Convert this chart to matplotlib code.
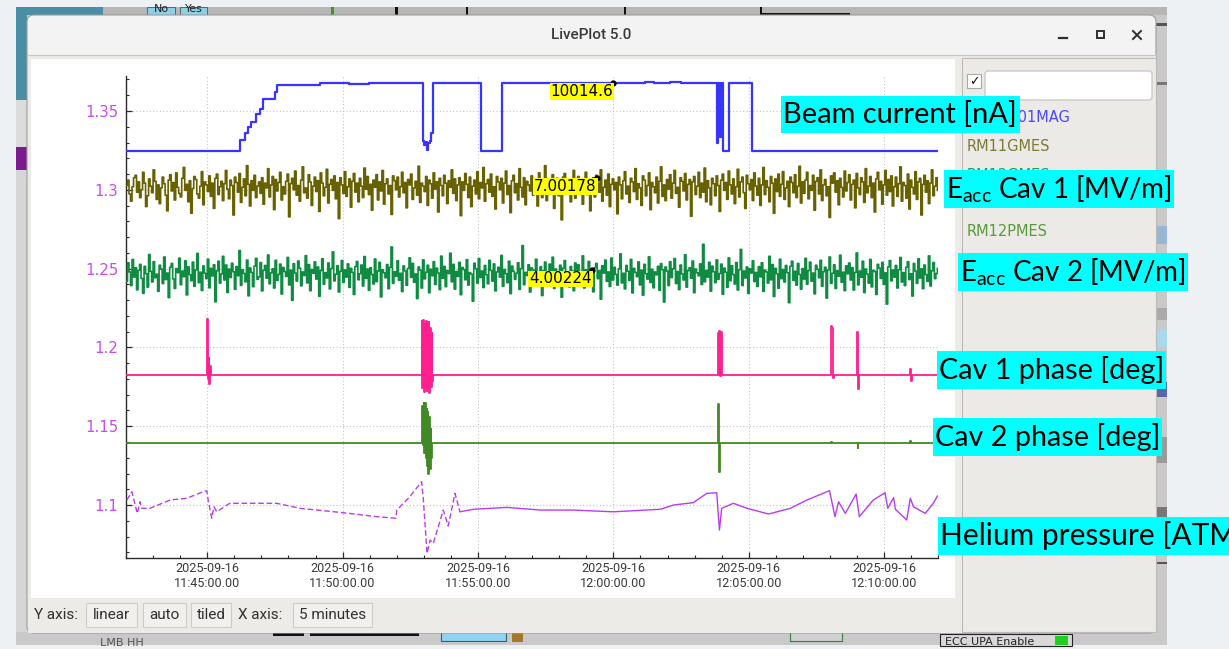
import numpy as np
import pandas as pd
import matplotlib.pyplot as plt
import matplotlib.dates as mdates
from matplotlib.patches import Rectangle, FancyBboxPatch
from matplotlib.ticker import MultipleLocator, FuncFormatter

plt.rcParams['font.family'] = ['DejaVu Sans']

DAY = "2025-09-16 "

# ---------------- data ----------------
# beam current [nA], step values
beam_times = ["11:42:00", "11:46:13", "11:46:24", "11:46:30", "11:46:36", "11:46:48", "11:46:57",
              "11:47:03", "11:47:30", "11:47:35", "11:49:10", "11:49:12", "11:49:16", "11:50:15",
              "11:50:59", "11:51:20", "11:51:28", "11:51:50", "11:51:58", "11:52:20", "11:52:30",
              "11:52:58", "11:53:01", "11:53:04", "11:53:07", "11:53:10", "11:53:13", "11:53:16",
              "11:53:20", "11:55:07", "11:55:53", "11:57:30", "11:58:40", "11:59:59", "12:00:40",
              "12:01:10", "12:01:30", "12:02:05", "12:02:30", "12:02:50", "12:03:10", "12:03:50",
              "12:03:52", "12:03:56", "12:03:58", "12:04:03", "12:04:16", "12:05:07", "12:11:59"]
beam_na = [0, 1600, 2570, 3440, 4270, 5430, 6150,
           7600, 8710, 9680, 9930, 10020, 9940, 9800,
           9940, 9990, 9930, 9990, 9940, 9985, 9935,
           1450, 850, 1300, 200, 1150, 1500, 2570,
           9940, 0, 9950, 9930, 9960, 10014.6, 10030,
           10060, 10020, 10050, 10010, 10040, 10000, 1200,
           9990, 2000, 9990, 0, 9980, 0, 0]

# accelerating gradients, deviation from nominal in units of 1e-4 MV/m
eacc1_dev = [5, 14, -9, -21, 3, 18, 22, -6, 11, -15, -2, 27, 9, -30, -12, 16, 4, -7, 31, 12, -18, 6, -25, 1, 19, 8, -11, -37, 14, 23,
             -4, 10, -19, 26, 2, -8, -14, 17, 35, -3, 7, -22, 13, -41, 0, 20, 15, -9, -16, 4, 28, -27, 11, 6, -5, 21, -13, 9, -33, 17,
             24, -10, 3, 12, -20, 8, 30, -1, -17, 14, 5, -44, 19, 10, -6, 25, -23, 2, 16, -12, 38, 7, -29, 13, -3, 22, -15, 4, 11, -8,
             18, -26, 9, 1, 33, -14, 6, 20, -35, 15, -4, 10, 27, -19, 3, -9, 12, 24, -47, 8, 17, -2, 29, -11, 5, -21, 14, 36, -7, 1,
             -16, 23, 11, -28, 4, 19, -5, 13, -38, 26, 9, -12, 2, 32, -24, 7, 15, -3, 21, -17, 10, -50, 18, 6, -8, 28, -13, 3, 16, -31,
             12, 25, -6, 9, -22, 17, 4, -15, 34, -1, 20, -10, 7, -36, 14, 2, 23, -19, 11, -4, 30, -26, 8, 16, -9, 5, -43, 21, 13, -2,
             19, -14, 3, 27, -7, 10, -32, 15, 6, 24, -18, 1, 12, -11, 37, -23, 9, 4, -5, 20, -28, 14, 8, -16, 26, -1, 11, -39, 17, 5,
             -12, 22, 9, -25, 13, 2, 31, -8, 16, -20, 6, 18, -45, 11, -3, 25, 7, -15, 19, -30, 4, 14, -9, 28, -17, 10, 1, 35, -21, 8,
             15, -6, 24, -13, 3, -34, 20, 11, -2, 17, -24, 9, 29, -10, 5, -40, 13, 22, -7, 8, -19, 33, 2, -14, 18, -27, 12, 6, -4, 21,
             -11, 16, 4, -29, 26, 10, -15, 7, 38, -20, 13, -5, 1, 23, -33, 9, 17, -12, 6, -52, 19, 25, -8, 3, 14, -22, 11, 30, -16, 5,
             20, -3, 12, -26, 8, 27, -10, 15, -37, 4, 18, -14, 22, 9, -6, 31, -21, 2, 14, -11, 24, -30, 7, 16, -2, 10, -42, 19, 6, -17,
             13, 28, -9, 4, -23, 17, 11, -5, 33, -18, 8, 1, -28, 21, 14, -12, 5, 26, -35, 10, 3, -7, 19, -24, 12, 36, -13, 6, -20, 15,
             -1, 23, -16, 9, 30, -8, 2, -31, 18, 12, -4, 25, -19, 7, 15, -46, 11, 20, -10, 4, 27, -15, 9, -6, 34, -22, 13, 1, -27, 17,
             8, -12, 21, 5, -38, 14, 24, -3, 10, -18, 29, 6, -9, 16, -25, 3, 32, -14, 11, 19, -7, -33, 22, 8, -2, 15, -20, 26, 4, -11,
             17, -28, 6, 35, -10, 13, 2, -22, 20, 9, -41, 16, -5, 24, -13, 7, 28, -18, 1, 12, -30, 19, 10, -7, 23, -15, 4, 37, -24, 11,
             -8, 14, 27, -17, 5, -3, 22, -36, 12, 18, -9, 31, -20, 6, 15, -12, 3, -48, 21, 9, 26, -6, 13, -27, 17, 2, -14, 29, -4, 10,
             23, -19, 7, 14, -32, 25, 1, -10, 18, 11, -23, 33, -7, 4, 20, -15, 9, -39, 16, 27, -2, 12, -26, 6, 30, -11, 15, -5, 21, -29,
             3, 19, -13, 8, 36, -21, 10, 5, -16, 24, -34, 14, 2, -9, 28, -18, 11, 17, -44, 7, 22, -6, 13, -25, 9, 31, -12, 4, 18, -3]
eacc2_dev = [-28, 55, 14, -47, 70, -9, 33, -66, 21, 48, -15, -82, 39, 6, -54, 92, 17, -31, 60, -12, 4, -73, 44, 26, -38, 81, -20, 9, -101, 35,
             52, -17, -60, 29, 11, 76, -43, 18, -7, 64, -89, 37, 2, -25, 58, -50, 23, 97, -34, 13, -69, 41, 8, -16, 71, -57, 30, -4, 46, -120,
             19, 62, -36, 5, 84, -22, 45, -78, 27, -11, 53, 15, -64, 38, -3, 110, -46, 24, 7, -30, 67, -93, 32, 12, -52, 40, 75, -19, -8, 56,
             -71, 21, 43, -14, 90, -39, 10, 28, -58, 66, -24, 3, 49, -85, 34, 16, -6, 79, -44, 22, -113, 51, 9, -27, 63, 31, -48, 14, -2, 87,
             -35, 47, -70, 25, 8, 59, -18, 36, -95, 20, 73, -41, 11, -13, 54, -62, 29, 104, -26, 4, 42, -76, 17, 65, -33, 23, -9, 50, -55, 30,
             12, -87, 38, 61, -21, 6, 45, -49, 83, -15, 27, -68, 33, 2, -40, 72, -29, 18, 57, -98, 24, 10, -12, 47, -61, 35, 126, -37, 15, -5,
             64, -23, 8, -74, 41, 19, -46, 30, 77, -10, 52, -32, 5, -105, 36, 22, -58, 68, -17, 13, 44, -79, 26, -3, 60, -42, 31, 9, -65, 85,
             -14, 39, -52, 20, 7, 98, -30, 48, -63, 16, -6, 57, -88, 34, 25, -21, 69, -45, 11, 4, -117, 53, 28, -36, 74, -11, 18, -56, 43, 2,
             -39, 66, 21, -27, 50, -71, 14, 35, -9, 88, -50, 25, 6, -34, 62, -83, 40, 17, -19, 8, 55, -64, 29, 132, -43, 12, -2, 46, -76, 32,
             23, -15, 71, -48, 10, 37, -92, 19, 58, -26, 4, 49, -37, 80, -60, 27, 13, -8, 44, -99, 31, 65, -20, 7, -53, 38, 18, -70, 54, -12,
             46, -31, 15, 86, -58, 24, -4, 61, -40, 11, -75, 33, 52, -16, 20, -108, 42, 9, 67, -28, 14, -51, 76, -22, 35, 3, -45, 28, 95, -35,
             8, -62, 43, 17, -24, 70, -80, 30, 12, -7, 59, -44, 22, -90, 48, 6, -18, 82, -33, 26, -57, 14, 1, 39, -68, 51, 24, -121, 36, 18,
             -47, 60, -11, 29, 74, -38, 16, -65, 45, 5, -22, 91, -54, 20, 33, -14, 63, -79, 27, 10, -3, 50, -42, 138, -30, 21, -9, 57, -72, 40,
             15, -34, 68, -19, 7, 49, -86, 31, 13, -55, 77, -25, 42, 2, -40, 56, -67, 24, 115, -47, 18, -13, 36, -82, 28, 9, 64, -29, 12, -51,
             38, -8, 55, -73, 22, 14, -36, 84, -21, 47, -96, 30, 6, -59, 71, -16, 25, -31, 43, 11, -124, 39, 62, -24, 17, -45, 52, 3, -63, 29,
             -18, 75, -41, 20, 58, -27, 9, -84, 44, 26, -12, 66, -50, 15, 35, -103, 23, 81, -37, 8, 46, -60, 19, -5, 89, -32, 13, -70, 41, 6,
             54, -22, 33, -67, 12, 99, -44, 18, -10, 62, -78, 27, 4, -36, 70, -53, 21, 16, -87, 48, 31, -15, 57, -42, 10, -130, 37, 65, -26, 23,
             -9, 43, -58, 24, 79, -31, 11, -47, 35, 60, -20, 6, -94, 52, 18, -37, 73, -13, 28, -61, 45, 2, -28, 86, -49, 19, 56, -16, 7, 30]
eacc1_nominal = 7.0
eacc2_nominal = 4.0

# cursor readouts (time, value)
cursor_beam = ("12:00:00", 10014.6)
cursor_eacc1 = ("11:59:23", 7.00178)
cursor_eacc2 = ("11:59:12", 4.00224)

# cavity phases, tiled axis units
phase1_times = ["11:42:00",
                "11:44:59", "11:45:01", "11:45:03", "11:45:05", "11:45:07", "11:45:09",
                "11:52:56", "11:52:57", "11:52:59", "11:53:00", "11:53:02", "11:53:03", "11:53:05", "11:53:06",
                "11:53:08", "11:53:09", "11:53:11", "11:53:12", "11:53:14", "11:53:15", "11:53:17", "11:53:18",
                "11:53:20",
                "12:03:51", "12:03:53", "12:03:55", "12:03:57", "12:03:58", "12:04:00",
                "12:08:02", "12:08:04", "12:08:06", "12:08:08",
                "12:08:59", "12:09:02", "12:09:05",
                "12:10:57", "12:10:59", "12:11:01",
                "12:11:58"]
phase1_vals = [1.1825,
               1.2180, 1.1800, 1.1930, 1.1768, 1.1880, 1.1825,
               1.2165, 1.1740, 1.2172, 1.1715, 1.2150, 1.1760, 1.2168, 1.1722,
               1.2140, 1.1735, 1.2160, 1.1712, 1.2120, 1.1750, 1.2090, 1.1790,
               1.1825,
               1.2090, 1.1822, 1.2106, 1.1820, 1.2100, 1.1825,
               1.2136, 1.2120, 1.1806, 1.1825,
               1.2100, 1.1736, 1.1825,
               1.1863, 1.1787, 1.1825,
               1.1825]
phase2_times = ["11:42:00",
                "11:52:57", "11:52:58", "11:53:00", "11:53:01", "11:53:03", "11:53:04", "11:53:06", "11:53:07",
                "11:53:09", "11:53:10", "11:53:12", "11:53:13", "11:53:15", "11:53:16", "11:53:18",
                "12:03:52", "12:03:54", "12:03:56",
                "12:08:03", "12:08:05", "12:09:01", "12:09:03", "12:10:58", "12:11:00",
                "12:11:58"]
phase2_vals = [1.1395,
               1.1630, 1.1380, 1.1645, 1.1330, 1.1650, 1.1300, 1.1610, 1.1250,
               1.1590, 1.1199, 1.1560, 1.1230, 1.1480, 1.1300, 1.1395,
               1.1638, 1.1211, 1.1395,
               1.1402, 1.1395, 1.1359, 1.1395, 1.1405, 1.1395,
               1.1395]

# helium pressure, tiled axis units
helium_times = ["11:42:02", "11:42:13", "11:42:25", "11:42:31", "11:42:35", "11:42:53", "11:43:38", "11:44:15",
                "11:44:51", "11:44:59", "11:45:02", "11:45:10", "11:45:15", "11:45:21", "11:45:50", "11:47:34",
                "11:48:26", "11:50:02", "11:51:16", "11:51:58", "11:52:00", "11:52:29", "11:52:55", "11:52:59",
                "11:53:07", "11:53:14", "11:53:21", "11:53:43", "11:53:54", "11:54:09", "11:54:20", "11:54:50",
                "11:56:04", "11:57:18", "11:58:31", "12:00:00", "12:01:44", "12:02:13", "12:02:57", "12:03:27",
                "12:03:49", "12:03:55", "12:04:00", "12:04:26", "12:04:56", "12:05:44", "12:06:32", "12:07:09",
                "12:07:59", "12:08:11", "12:08:19", "12:08:34", "12:08:58", "12:09:05", "12:09:36", "12:10:02",
                "12:10:08", "12:10:21", "12:10:25", "12:10:50", "12:10:58", "12:11:05", "12:11:31", "12:11:49",
                "12:11:58"]
helium_vals = [1.1032, 1.1084, 1.0947, 1.1021, 1.0979, 1.0979, 1.1032, 1.1043,
               1.1084, 1.1091, 1.1032, 1.0916, 1.0989, 1.0957, 1.1011, 1.1011,
               1.0979, 1.0951, 1.0926, 1.0916, 1.0968, 1.1053, 1.1148, 1.1032,
               1.0694, 1.0778, 1.0757, 1.0968, 1.0867, 1.1074, 1.0957, 1.0973,
               1.0985, 1.0968, 1.0968, 1.0957, 1.0973, 1.1000, 1.1015, 1.1074,
               1.1078, 1.0841, 1.0979, 1.1011, 1.0979, 1.0943, 1.0979, 1.1032,
               1.1091, 1.0926, 1.1021, 1.0947, 1.1070, 1.0926, 1.1032, 1.1078,
               1.0979, 1.1047, 1.0973, 1.0905, 1.1043, 1.0989, 1.0947, 1.1011,
               1.1057]
helium_live_from = "11:54:20"

legend_names = ["CRCUR01MAG", "RM11GMES", "RM12GMES", "RM11PMES", "RM12PMES"]
legend_colors = ["#4848ff", "#7f7a30", "#2f9a55", "#ff4fa3", "#5a9a3a"]

labels = ["Beam current [nA]", "E$_{\\mathregular{acc}}$ Cav 1 [MV/m]", "E$_{\\mathregular{acc}}$ Cav 2 [MV/m]",
          "Cav 1 phase [deg]", "Cav 2 phase [deg]", "Helium pressure [ATM]"]


def ts(times):
    return pd.to_datetime([DAY + t for t in times]).to_numpy()


def tile(v, v0, y0, k):
    return y0 + (np.asarray(v, dtype=float) - v0) * k


beam_tile = (0.0, 1.3247, 4.3197e-6)
eacc1_tile = (eacc1_nominal, 1.3008, 3.82)
eacc2_tile = (eacc2_nominal, 1.2459, 1.415)

t_start = pd.Timestamp(DAY + "11:42:00")
t_end = pd.Timestamp(DAY + "12:12:00")


def sample_times(n):
    return (t_start + pd.to_timedelta(np.arange(n) * 1798.0 / (n - 1), unit='s')).to_numpy()


# ---------------- screen ----------------
W, H = 1229, 649
fig = plt.figure(figsize=(W / 100, H / 100), dpi=100)
fig.patch.set_facecolor('#eef1f4')

scr = fig.add_axes([0, 0, 1, 1], zorder=0)
scr.set_xlim(0, W)
scr.set_ylim(H, 0)
scr.axis('off')


def box(ax, x0, y0, x1, y1, fc, ec='none', lw=0.8, z=1):
    r = Rectangle((x0, y0), x1 - x0, y1 - y0, facecolor=fc, edgecolor=ec, linewidth=lw, zorder=z)
    ax.add_patch(r)
    return r


# application behind the window
box(scr, 16, 7, 1167, 645, '#c9c9c9')
box(scr, 103, 7, 1167, 15, '#b6b6b6')
box(scr, 16, 7, 103, 15, '#4a8ea6')
box(scr, 16, 15, 27, 100, '#4a8ea6')
box(scr, 16, 100, 27, 147, '#dcdcdc')
box(scr, 16, 147, 27, 170, '#7a1c8c')
box(scr, 16, 170, 27, 632, '#d6d6d6')
for x0, x1, s in [(147, 175, 'No'), (180, 207, 'Yes')]:
    r = box(scr, x0, 7, x1, 15, '#8ccfe6', ec='#555555', lw=0.6)
    t = scr.text((x0 + x1) / 2, 9, s, ha='center', va='center', fontsize=8, color='#222222')
    t.set_clip_path(r)
for x0, x1, c in [(331, 334, '#3a9a20'), (395, 398, '#111111'), (466, 468, '#111111'),
                  (624, 626, '#111111'), (760, 762, '#111111')]:
    box(scr, x0, 7, x1, 15, c)
box(scr, 760, 13, 850, 15, '#111111')
# right edge strip
for y0, y1, c in [(23, 26, '#555555'), (82, 85, '#777777'), (226, 244, '#9ab6d6'), (308, 320, '#aaaaaa'),
                  (330, 347, '#a8d8ee'), (382, 397, '#5a66a8'), (437, 463, '#9a9a9a'), (507, 517, '#777777'),
                  (562, 564, '#555555')]:
    box(scr, 1156, y0, 1167, y1, c)
# bottom strip
box(scr, 273, 632, 304, 636, '#111111')
box(scr, 310, 632, 419, 636, '#111111')
box(scr, 441, 626, 506, 641, '#8fd3f0', ec='#2c5f80')
box(scr, 512, 632, 523, 642, '#a8752e')
box(scr, 790, 628, 842, 641, '#d0d0d0', ec='#3a7a3a')
box(scr, 940, 634, 1072, 646, '#d8d8d8', ec='#222222')
box(scr, 1055, 636, 1068, 645, '#22cc22')
scr.text(945, 642, 'ECC UPA Enable', fontsize=8, color='#222222', va='center')
scr.text(100, 643, 'LMB HH', fontsize=8, color='#555555', va='center')

# window frame
scr.add_patch(FancyBboxPatch((27, 15), 1129, 618, boxstyle='round,pad=0,rounding_size=7',
                             facecolor='#f3f3f3', edgecolor='#9c9c9c', linewidth=0.8, zorder=2))
box(scr, 27.5, 55, 1155.5, 632.5, '#edebe8', z=3)
scr.plot([27, 1156], [54.5, 54.5], color='#c9c7c4', lw=0.9, zorder=4)
box(scr, 31, 59, 955, 598, 'white', z=4)
box(scr, 962, 58, 1156, 632, '#eceae6', ec='#bdb9b4', z=4)

scr.text(591, 35, 'LivePlot 5.0', ha='center', va='center', fontsize=11, color='#3a3a3a',
         fontfamily='Roboto', fontweight='medium', zorder=5)
scr.plot([1059, 1067], [38, 38], color='#2e2e2e', lw=1.6, zorder=5)
scr.add_patch(Rectangle((1096.5, 30.5), 7, 7, fill=False, edgecolor='#2e2e2e', lw=1.4, zorder=5))
scr.plot([1133, 1141], [31, 39], color='#2e2e2e', lw=1.4, zorder=5)
scr.plot([1133, 1141], [39, 31], color='#2e2e2e', lw=1.4, zorder=5)

# legend panel
box(scr, 967, 74, 981, 88, 'white', ec='#a8a8a8', z=5)
scr.text(974, 81.5, '\u2713', ha='center', va='center', fontsize=9, color='#111111', zorder=6)
scr.add_patch(FancyBboxPatch((985, 71), 167, 29, boxstyle='round,pad=0,rounding_size=3',
                             facecolor='white', edgecolor='#c6c6c6', linewidth=0.9, zorder=5))
for i, (name, c) in enumerate(zip(legend_names, legend_colors)):
    scr.text(967, 118 + 28.5 * i, name, fontsize=10.5, color=c, va='center', zorder=6)

# status bar
status_font = dict(fontsize=11, fontfamily='Roboto', color='#303030', va='center', zorder=6)
scr.text(34, 615, 'Y axis:', **status_font)
scr.text(238, 615, 'X axis:', **status_font)
for x0, x1, s in [(86, 137, 'linear'), (143, 186, 'auto'), (191, 231, 'tiled'), (293, 372, '5 minutes')]:
    box(scr, x0, 603, x1, 627, '#f1f0ee', ec='#cfccc8', z=5)
    scr.text((x0 + x1) / 2, 615, s, ha='center', **status_font)

# ---------------- plot ----------------
ax = fig.add_axes([126 / W, (H - 558.3) / H, (938.3 - 126) / W, (558.3 - 76) / H], zorder=1)
ax.patch.set_visible(False)

ax.step(ts(beam_times), tile(beam_na, *beam_tile), where='post', color='#3535ff', lw=1.6, zorder=3)
e1 = eacc1_nominal + np.array(eacc1_dev) * 1e-4
e2 = eacc2_nominal + np.array(eacc2_dev) * 1e-4
ax.step(sample_times(len(e1)), tile(e1, *eacc1_tile), where='post', color='#686100', lw=1.2, zorder=3)
ax.step(sample_times(len(e2)), tile(e2, *eacc2_tile), where='post', color='#0f8c42', lw=1.2, zorder=3)
ax.step(ts(phase1_times), phase1_vals, where='post', color='#ff1f8f', lw=1.3, zorder=3)
ax.step(ts(phase2_times), phase2_vals, where='post', color='#3f8a22', lw=1.3, zorder=3)

he_t = ts(helium_times)
he_v = np.array(helium_vals)
split = helium_times.index(helium_live_from)
ax.plot(he_t[:split + 1], he_v[:split + 1], color='#b83cf0', lw=1.0, ls=(0, (4, 2)), zorder=3)
ax.plot(he_t[split:], he_v[split:], color='#b83cf0', lw=1.0, zorder=3)

# cursor readouts
for (when, val), tl in [(cursor_beam, beam_tile), (cursor_eacc1, eacc1_tile), (cursor_eacc2, eacc2_tile)]:
    x = ts([when])[0]
    y = float(tile(val, *tl))
    ax.plot([x], [y], 'o', color='black', ms=3.5, zorder=6)
    ax.annotate(f"{val:g}", xy=(x, y), xytext=(0, -1), textcoords='offset points', ha='right', va='top',
                fontsize=11, color='black', zorder=7,
                bbox=dict(boxstyle='square,pad=0.06', facecolor='#ffff00', edgecolor='none'))

ax.set_xlim(t_start.to_numpy(), t_end.to_numpy())
ax.set_ylim(1.0662, 1.3722)
ax.xaxis.set_major_locator(mdates.MinuteLocator(byminute=range(0, 60, 5)))
ax.xaxis.set_minor_locator(mdates.MinuteLocator())
ax.xaxis.set_major_formatter(mdates.DateFormatter('%Y-%m-%d\n%H:%M:%S.00'))
ax.yaxis.set_major_locator(MultipleLocator(0.05))
ax.yaxis.set_minor_locator(MultipleLocator(0.01))
ax.yaxis.set_major_formatter(FuncFormatter(lambda v, p: f"{v:g}"))

for s in ['top', 'right']:
    ax.spines[s].set_visible(False)
for s in ['left', 'bottom']:
    ax.spines[s].set_color('#2a2a2a')
    ax.spines[s].set_linewidth(1.0)
ax.tick_params(axis='y', which='major', direction='in', length=4.5, width=0.9, pad=5.5,
               labelsize=10.8, labelcolor='#c84cf0', color='#2a2a2a')
ax.tick_params(axis='y', which='minor', direction='in', length=2.2, width=0.8, color='#2a2a2a')
ax.tick_params(axis='x', which='major', direction='in', length=4.5, width=0.9, pad=3,
               labelsize=9.1, labelcolor='#3a3a3a', color='#2a2a2a', labelfontfamily='Roboto')
ax.tick_params(axis='x', which='minor', direction='in', length=2.2, width=0.8, color='#2a2a2a')
ax.set_axisbelow(True)
ax.grid(True, which='major', color='#c4c4c4', linestyle=(0, (1, 2)), linewidth=0.8)

# ---------------- annotation labels ----------------
top = fig.add_axes([0, 0, 1, 1], zorder=3)
top.set_xlim(0, W)
top.set_ylim(H, 0)
top.axis('off')
top.patch.set_visible(False)

renderer = fig.canvas.get_renderer()


def cyan_label(x0, x1, y0, y1, s, size=None):
    box(top, x0, y0, x1, y1, '#00ffff', z=1)
    t = top.text(x0 + 2, (y0 + y1) / 2, s, fontfamily='Lato', fontsize=size or 20, color='black',
                 va='center', ha='left', zorder=2)
    if size is None:
        w = t.get_window_extent(renderer).width
        size = 20 * (x1 - x0 - 4) / w
        t.set_fontsize(size)
    return size


label_boxes = [(781, 1020, 96, 133), (944, 1174, 170, 208), (958, 1188, 253, 291),
               (937, 1166, 351, 389), (933, 1162, 418, 456)]
sizes = [cyan_label(*b, s) for b, s in zip(label_boxes, labels[:5])]
cyan_label(938, 1240, 517, 555, labels[5], size=sizes[3] * 1.04)

fig.savefig('out.png', dpi=100, facecolor=fig.get_facecolor())
